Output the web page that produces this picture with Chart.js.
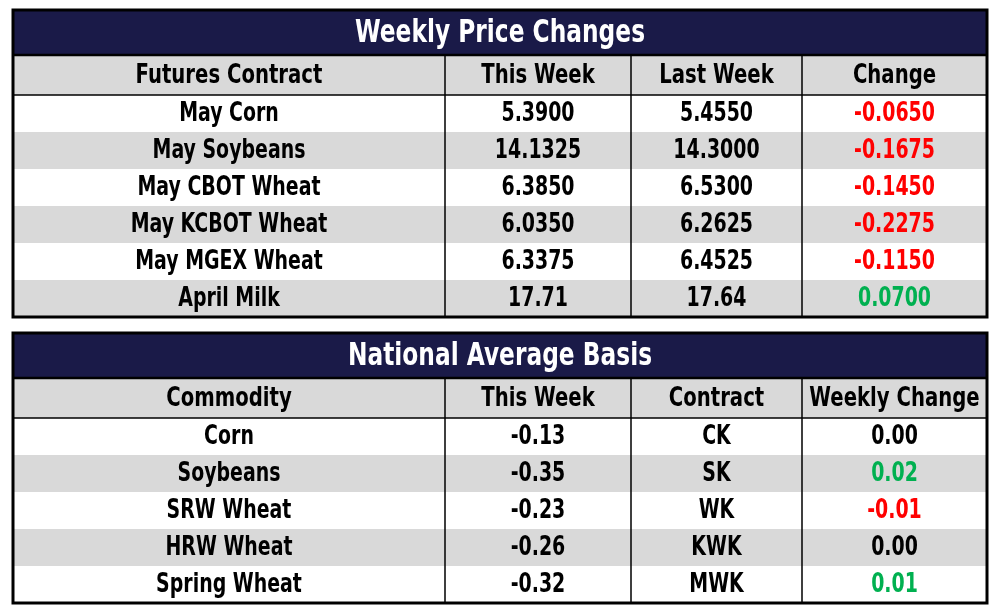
<!DOCTYPE html>
<html lang="en">
<head>
    <meta charset="UTF-8">
    <title>Weekly Price Changes</title>
    <script src="https://cdn.jsdelivr.net/npm/chart.js"></script>
    <style>
        body { margin: 0; background: #fff; }
        #wrap { width: 1000px; height: 613px; }
    </style>
</head>
<body>
<div id="wrap"><canvas id="grid"></canvas></div>
<script>
    // Weekly price changes (futures)
    const futuresTitle = 'Weekly Price Changes';
    const futuresHeaders = ['Futures Contract', 'This Week', 'Last Week', 'Change'];
    const futuresContracts = ['May Corn', 'May Soybeans', 'May CBOT Wheat', 'May KCBOT Wheat', 'May MGEX Wheat', 'April Milk'];
    const futuresThisWeek = [5.39, 14.1325, 6.385, 6.035, 6.3375, 17.71];
    const futuresLastWeek = [5.455, 14.3, 6.53, 6.2625, 6.4525, 17.64];
    const futuresChange = [-0.065, -0.1675, -0.145, -0.2275, -0.115, 0.07];
    const futuresDecimals = [4, 4, 4, 4, 4, 2];

    // National average basis
    const basisTitle = 'National Average Basis';
    const basisHeaders = ['Commodity', 'This Week', 'Contract', 'Weekly Change'];
    const basisCommodities = ['Corn', 'Soybeans', 'SRW Wheat', 'HRW Wheat', 'Spring Wheat'];
    const basisThisWeek = [-0.13, -0.35, -0.23, -0.26, -0.32];
    const basisContracts = ['CK', 'SK', 'WK', 'KWK', 'MWK'];
    const basisChange = [0.00, 0.02, -0.01, 0.00, 0.01];

    // layout (scale units)
    const colEdges = [13, 445, 631, 802, 987];
    const NAVY = '#1a1a48', GRAY = '#d9d9d9', RED = '#ff0000', GREEN = '#00b050';
    const FONT = '"DejaVu Sans Condensed", "DejaVu Sans", sans-serif';
    const SQUEEZE = 0.81; // the original face is narrower than DejaVu Condensed

    function signColor(v) {
        if (v > 0) return GREEN;
        if (v < 0) return RED;
        return '#000';
    }

    const tables = [
        {
            top: 10, titleH: 45, headH: 40, rowH: 37,
            title: futuresTitle,
            headers: futuresHeaders,
            rows: futuresContracts.map((c, i) => [
                { text: c },
                { text: futuresThisWeek[i].toFixed(futuresDecimals[i]) },
                { text: futuresLastWeek[i].toFixed(futuresDecimals[i]) },
                { text: futuresChange[i].toFixed(4), color: signColor(futuresChange[i]) }
            ])
        },
        {
            top: 333, titleH: 45, headH: 40, rowH: 37,
            title: basisTitle,
            headers: basisHeaders,
            rows: basisCommodities.map((c, i) => [
                { text: c },
                { text: basisThisWeek[i].toFixed(2) },
                { text: basisContracts[i] },
                { text: basisChange[i].toFixed(2), color: signColor(basisChange[i]) }
            ])
        }
    ];

    function squeezedText(ctx, text, x, y) {
        ctx.save();
        ctx.translate(x, y);
        ctx.scale(SQUEEZE, 1);
        ctx.fillText(text, 0, 0);
        ctx.restore();
    }

    function drawTable(ctx, xs, ys, t) {
        const px = v => xs.getPixelForValue(v);
        const py = v => ys.getPixelForValue(v);
        const left = px(colEdges[0]), right = px(colEdges[colEdges.length - 1]);
        const titleBot = t.top + t.titleH;
        const headBot = titleBot + t.headH;
        const bottom = headBot + t.rowH * t.rows.length;

        // fills
        ctx.fillStyle = NAVY;
        ctx.fillRect(left, py(t.top), right - left, py(titleBot) - py(t.top));
        ctx.fillStyle = GRAY;
        ctx.fillRect(left, py(titleBot), right - left, py(headBot) - py(titleBot));
        t.rows.forEach((r, i) => {
            if (i % 2 === 1) {
                const r0 = headBot + i * t.rowH;
                ctx.fillRect(left, py(r0), right - left, py(r0 + t.rowH) - py(r0));
            }
        });

        // lines
        ctx.strokeStyle = '#000';
        ctx.lineWidth = 1.5;
        ctx.beginPath();
        for (let c = 1; c < colEdges.length - 1; c++) {
            ctx.moveTo(px(colEdges[c]), py(titleBot));
            ctx.lineTo(px(colEdges[c]), py(bottom));
        }
        ctx.moveTo(left, py(headBot));
        ctx.lineTo(right, py(headBot));
        ctx.stroke();
        ctx.lineWidth = 2.5;
        ctx.beginPath();
        ctx.moveTo(left, py(titleBot));
        ctx.lineTo(right, py(titleBot));
        ctx.stroke();
        ctx.lineWidth = 3;
        ctx.strokeRect(left, py(t.top), right - left, py(bottom) - py(t.top));

        // text
        ctx.textAlign = 'center';
        ctx.textBaseline = 'middle';
        ctx.fillStyle = '#fff';
        ctx.font = 'bold 32px ' + FONT;
        squeezedText(ctx, t.title, (left + right) / 2, py(t.top + t.titleH / 2) + 1);

        ctx.fillStyle = '#000';
        ctx.font = 'bold 27px ' + FONT;
        t.headers.forEach((h, c) => {
            const cx = (px(colEdges[c]) + px(colEdges[c + 1])) / 2;
            squeezedText(ctx, h, cx, py(titleBot + t.headH / 2) + 1);
        });

        ctx.font = 'bold 26px ' + FONT;
        t.rows.forEach((r, i) => {
            const cy = py(headBot + i * t.rowH + t.rowH / 2) + 1;
            r.forEach((cell, c) => {
                const cx = (px(colEdges[c]) + px(colEdges[c + 1])) / 2;
                ctx.fillStyle = cell.color || '#000';
                squeezedText(ctx, cell.text, cx, cy);
            });
        });
    }

    const tablePlugin = {
        id: 'tables',
        beforeDatasetsDraw(chart) {
            const { ctx, scales } = chart;
            ctx.save();
            tables.forEach(t => drawTable(ctx, scales.x, scales.y, t));
            ctx.restore();
        }
    };

    new Chart(document.getElementById('grid'), {
        type: 'scatter',
        data: { datasets: [{ data: [] }] },
        options: {
            responsive: true,
            maintainAspectRatio: false,
            animation: false,
            layout: { padding: 0 },
            plugins: { legend: { display: false }, tooltip: { enabled: false } },
            scales: {
                x: { type: 'linear', min: 0, max: 1000, display: false },
                y: { type: 'linear', min: 0, max: 613, reverse: true, display: false }
            }
        },
        plugins: [tablePlugin]
    });
</script>
</body>
</html>
